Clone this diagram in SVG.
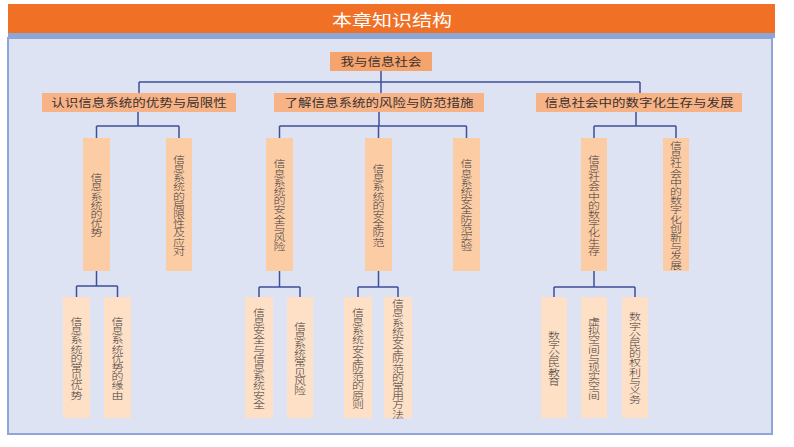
<svg xmlns="http://www.w3.org/2000/svg" width="794" height="447" viewBox="0 0 794 447">
<style>
text{font-family:"Noto Sans CJK SC","Noto Sans CJK JP",sans-serif;fill:#3a3030;text-anchor:middle;dominant-baseline:central}
.h{font-size:13.5px}
.v{font-size:12px;font-weight:300;fill:#463c3c}
.r{fill:#f5a46d}
.l1{fill:#f7b385}
.l2{fill:#fccda5}
.l3{fill:#fde0c5}
.c{stroke:#3f4f9c;stroke-width:1.5;fill:none}
</style>
<rect width="794" height="447" fill="#ffffff"/>
<rect x="8" y="38" width="764" height="396" fill="#dde3f3" stroke="#8ea5d6" stroke-width="2"/>
<rect x="8" y="4" width="767" height="29" fill="#f07026"/>
<rect x="8" y="33" width="767" height="5" fill="#8ea6d6"/>
<text transform="translate(392,19) scale(1,0.8)" style="font-size:20px;fill:#ffffff">本章知识结构</text>
<g id="connectors">
<path class="c" d="M381 71V93M139 82H640M139 82V93M640 82V93"/>
<path class="c" d="M138 112V126M96.5 126H179M96.5 126V138M179 126V138"/>
<path class="c" d="M379 112V126M279.5 126H466.5M279.5 126V138M378.5 126V138M466.5 126V138"/>
<path class="c" d="M636 112V126M594 126H676M594 126V138M676 126V138"/>
<path class="c" d="M96.5 271V286M76.5 286H117.5M76.5 286V297M117.5 286V297"/>
<path class="c" d="M279.5 271V287M259 287H300M259 287V297M300 287V297"/>
<path class="c" d="M378.5 271V287M358 287H398M358 287V297M398 287V297"/>
<path class="c" d="M594 271V287M554 287H635M554 287V297M635 287V297"/>
</g>
<g id="root"><rect class="r" x="330" y="52" width="102" height="19"/><text class="h" transform="translate(381,61.5) scale(1,0.8)">我与信息社会</text></g>
<g id="l1a"><rect class="l1" x="42" y="93" width="194" height="19"/><text class="h" transform="translate(139,102.5) scale(1,0.8)">认识信息系统的优势与局限性</text></g>
<g id="l1b"><rect class="l1" x="274" y="93" width="210" height="19"/><text class="h" transform="translate(379,102.5) scale(1,0.8)">了解信息系统的风险与防范措施</text></g>
<g id="l1c"><rect class="l1" x="536" y="93" width="206" height="19"/><text class="h" transform="translate(639,102.5) scale(1,0.8)">信息社会中的数字化生存与发展</text></g>

<g id="a1"><rect class="l2" x="83" y="138" width="27" height="133"/><text class="v" transform="translate(96.5,204.5) scale(1,0.78)"><tspan x="0" y="-35.4">信</tspan><tspan x="0" y="-23.6">息</tspan><tspan x="0" y="-11.8">系</tspan><tspan x="0" y="0">统</tspan><tspan x="0" y="11.8">的</tspan><tspan x="0" y="23.6">优</tspan><tspan x="0" y="35.4">势</tspan></text></g>
<g id="a2"><rect class="l2" x="166" y="138" width="26" height="133"/><text class="v" transform="translate(179,204.5) scale(1,0.78)"><tspan x="0" y="-59">信</tspan><tspan x="0" y="-47.2">息</tspan><tspan x="0" y="-35.4">系</tspan><tspan x="0" y="-23.6">统</tspan><tspan x="0" y="-11.8">的</tspan><tspan x="0" y="0">局</tspan><tspan x="0" y="11.8">限</tspan><tspan x="0" y="23.6">性</tspan><tspan x="0" y="35.4">及</tspan><tspan x="0" y="47.2">应</tspan><tspan x="0" y="59">对</tspan></text></g>
<g id="b1"><rect class="l2" x="266" y="138" width="27" height="133"/><text class="v" transform="translate(279.5,204.5) scale(1,0.78)"><tspan x="0" y="-53.1">信</tspan><tspan x="0" y="-41.3">息</tspan><tspan x="0" y="-29.5">系</tspan><tspan x="0" y="-17.7">统</tspan><tspan x="0" y="-5.9">的</tspan><tspan x="0" y="5.9">安</tspan><tspan x="0" y="17.7">全</tspan><tspan x="0" y="29.5">与</tspan><tspan x="0" y="41.3">风</tspan><tspan x="0" y="53.1">险</tspan></text></g>
<g id="b2"><rect class="l2" x="365" y="138" width="27" height="133"/><text class="v" transform="translate(378.5,204.5) scale(1,0.78)"><tspan x="0" y="-47.2">信</tspan><tspan x="0" y="-35.4">息</tspan><tspan x="0" y="-23.6">系</tspan><tspan x="0" y="-11.8">统</tspan><tspan x="0" y="0">的</tspan><tspan x="0" y="11.8">安</tspan><tspan x="0" y="23.6">全</tspan><tspan x="0" y="35.4">防</tspan><tspan x="0" y="47.2">范</tspan></text></g>
<g id="b3"><rect class="l2" x="453" y="138" width="27" height="133"/><text class="v" transform="translate(466.5,204.5) scale(1,0.78)"><tspan x="0" y="-53.1">信</tspan><tspan x="0" y="-41.3">息</tspan><tspan x="0" y="-29.5">系</tspan><tspan x="0" y="-17.7">统</tspan><tspan x="0" y="-5.9">安</tspan><tspan x="0" y="5.9">全</tspan><tspan x="0" y="17.7">防</tspan><tspan x="0" y="29.5">范</tspan><tspan x="0" y="41.3">实</tspan><tspan x="0" y="53.1">验</tspan></text></g>
<g id="c1"><rect class="l2" x="581" y="138" width="26" height="133"/><text class="v" transform="translate(594,204.5) scale(1,0.78)"><tspan x="0" y="-59">信</tspan><tspan x="0" y="-47.2">息</tspan><tspan x="0" y="-35.4">社</tspan><tspan x="0" y="-23.6">会</tspan><tspan x="0" y="-11.8">中</tspan><tspan x="0" y="0">的</tspan><tspan x="0" y="11.8">数</tspan><tspan x="0" y="23.6">字</tspan><tspan x="0" y="35.4">化</tspan><tspan x="0" y="47.2">生</tspan><tspan x="0" y="59">存</tspan></text></g>
<g id="c2"><rect class="l2" x="663" y="138" width="26" height="133"/><text class="v" transform="translate(676,204.5) scale(1,0.78)"><tspan x="0" y="-76.7">信</tspan><tspan x="0" y="-64.9">息</tspan><tspan x="0" y="-53.1">社</tspan><tspan x="0" y="-41.3">会</tspan><tspan x="0" y="-29.5">中</tspan><tspan x="0" y="-17.7">的</tspan><tspan x="0" y="-5.9">数</tspan><tspan x="0" y="5.9">字</tspan><tspan x="0" y="17.7">化</tspan><tspan x="0" y="29.5">创</tspan><tspan x="0" y="41.3">新</tspan><tspan x="0" y="53.1">与</tspan><tspan x="0" y="64.9">发</tspan><tspan x="0" y="76.7">展</tspan></text></g>

<g id="a1a"><rect class="l3" x="63" y="297" width="27" height="121"/><text class="v" transform="translate(76.5,357.5) scale(1,0.78)"><tspan x="0" y="-47.2">信</tspan><tspan x="0" y="-35.4">息</tspan><tspan x="0" y="-23.6">系</tspan><tspan x="0" y="-11.8">统</tspan><tspan x="0" y="0">的</tspan><tspan x="0" y="11.8">常</tspan><tspan x="0" y="23.6">见</tspan><tspan x="0" y="35.4">优</tspan><tspan x="0" y="47.2">势</tspan></text></g>
<g id="a1b"><rect class="l3" x="104" y="297" width="27" height="121"/><text class="v" transform="translate(117.5,357.5) scale(1,0.78)"><tspan x="0" y="-47.2">信</tspan><tspan x="0" y="-35.4">息</tspan><tspan x="0" y="-23.6">系</tspan><tspan x="0" y="-11.8">统</tspan><tspan x="0" y="0">优</tspan><tspan x="0" y="11.8">势</tspan><tspan x="0" y="23.6">的</tspan><tspan x="0" y="35.4">缘</tspan><tspan x="0" y="47.2">由</tspan></text></g>
<g id="b1a"><rect class="l3" x="245" y="297" width="28" height="121"/><text class="v" transform="translate(259,357.5) scale(1,0.78)"><tspan x="0" y="-59">信</tspan><tspan x="0" y="-47.2">息</tspan><tspan x="0" y="-35.4">安</tspan><tspan x="0" y="-23.6">全</tspan><tspan x="0" y="-11.8">与</tspan><tspan x="0" y="0">信</tspan><tspan x="0" y="11.8">息</tspan><tspan x="0" y="23.6">系</tspan><tspan x="0" y="35.4">统</tspan><tspan x="0" y="47.2">安</tspan><tspan x="0" y="59">全</tspan></text></g>
<g id="b1b"><rect class="l3" x="287" y="297" width="26" height="121"/><text class="v" transform="translate(300,357.5) scale(1,0.78)"><tspan x="0" y="-41.3">信</tspan><tspan x="0" y="-29.5">息</tspan><tspan x="0" y="-17.7">系</tspan><tspan x="0" y="-5.9">统</tspan><tspan x="0" y="5.9">常</tspan><tspan x="0" y="17.7">见</tspan><tspan x="0" y="29.5">风</tspan><tspan x="0" y="41.3">险</tspan></text></g>
<g id="b2a"><rect class="l3" x="344" y="297" width="28" height="121"/><text class="v" transform="translate(358,357.5) scale(1,0.78)"><tspan x="0" y="-59">信</tspan><tspan x="0" y="-47.2">息</tspan><tspan x="0" y="-35.4">系</tspan><tspan x="0" y="-23.6">统</tspan><tspan x="0" y="-11.8">安</tspan><tspan x="0" y="0">全</tspan><tspan x="0" y="11.8">防</tspan><tspan x="0" y="23.6">范</tspan><tspan x="0" y="35.4">的</tspan><tspan x="0" y="47.2">原</tspan><tspan x="0" y="59">则</tspan></text></g>
<g id="b2b"><rect class="l3" x="384" y="297" width="28" height="121"/><text class="v" transform="translate(398,358) scale(1,0.78)"><tspan x="0" y="-70.8">信</tspan><tspan x="0" y="-59">息</tspan><tspan x="0" y="-47.2">系</tspan><tspan x="0" y="-35.4">统</tspan><tspan x="0" y="-23.6">安</tspan><tspan x="0" y="-11.8">全</tspan><tspan x="0" y="0">防</tspan><tspan x="0" y="11.8">范</tspan><tspan x="0" y="23.6">的</tspan><tspan x="0" y="35.4">常</tspan><tspan x="0" y="47.2">用</tspan><tspan x="0" y="59">方</tspan><tspan x="0" y="70.8">法</tspan></text></g>
<g id="c1a"><rect class="l3" x="541" y="297" width="26" height="121"/><text class="v" transform="translate(554,357.5) scale(1,0.78)"><tspan x="0" y="-29.5">数</tspan><tspan x="0" y="-17.7">字</tspan><tspan x="0" y="-5.9">公</tspan><tspan x="0" y="5.9">民</tspan><tspan x="0" y="17.7">教</tspan><tspan x="0" y="29.5">育</tspan></text></g>
<g id="c1b"><rect class="l3" x="581" y="297" width="26" height="121"/><text class="v" transform="translate(594,357.5) scale(1,0.78)"><tspan x="0" y="-47.2">虚</tspan><tspan x="0" y="-35.4">拟</tspan><tspan x="0" y="-23.6">空</tspan><tspan x="0" y="-11.8">间</tspan><tspan x="0" y="0">与</tspan><tspan x="0" y="11.8">现</tspan><tspan x="0" y="23.6">实</tspan><tspan x="0" y="35.4">空</tspan><tspan x="0" y="47.2">间</tspan></text></g>
<g id="c1c"><rect class="l3" x="622" y="297" width="26" height="121"/><text class="v" transform="translate(635,357.5) scale(1,0.78)"><tspan x="0" y="-53.1">数</tspan><tspan x="0" y="-41.3">字</tspan><tspan x="0" y="-29.5">公</tspan><tspan x="0" y="-17.7">民</tspan><tspan x="0" y="-5.9">的</tspan><tspan x="0" y="5.9">权</tspan><tspan x="0" y="17.7">利</tspan><tspan x="0" y="29.5">与</tspan><tspan x="0" y="41.3">义</tspan><tspan x="0" y="53.1">务</tspan></text></g>
</svg>
